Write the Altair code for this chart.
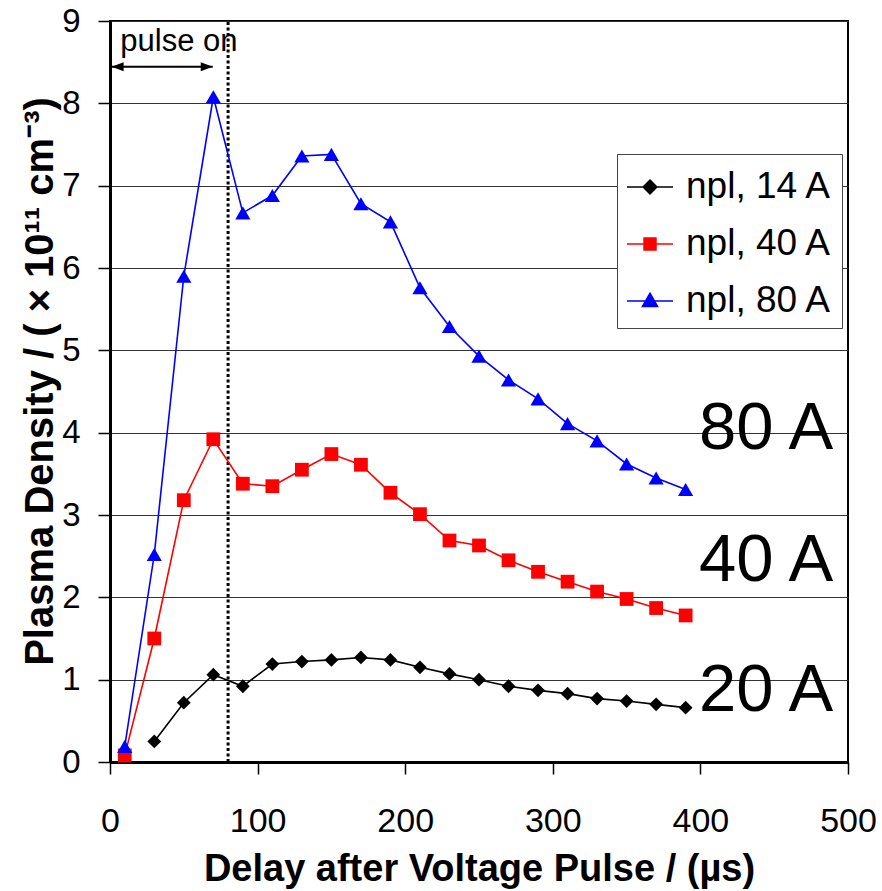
import altair as alt
import pandas as pd

# ---- data ----
delay = [10, 30, 50, 70, 90, 110, 130, 150, 170, 190, 210, 230, 250, 270, 290, 310, 330, 350, 370, 390]
npl_14 = [None, 0.25, 0.72, 1.06, 0.92, 1.19, 1.22, 1.24, 1.27, 1.24, 1.15, 1.07, 1.00, 0.92, 0.87, 0.83, 0.77, 0.74, 0.70, 0.66]
npl_40 = [0.08, 1.50, 3.18, 3.92, 3.38, 3.35, 3.55, 3.74, 3.61, 3.27, 3.01, 2.69, 2.63, 2.45, 2.31, 2.19, 2.07, 1.98, 1.87, 1.78]
npl_80 = [0.19, 2.52, 5.90, 8.08, 6.67, 6.88, 7.36, 7.38, 6.78, 6.56, 5.76, 5.29, 4.93, 4.64, 4.41, 4.11, 3.90, 3.62, 3.45, 3.31]

series_names = ["npl, 14 A", "npl, 40 A", "npl, 80 A"]
series_colors = ["#000000", "#FF0000", "#0000FF"]
series_shapes = ["diamond", "square", "triangle-up"]
series_sizes = [190, 190, 230]
legend_paths = [
    "M-1,0H1M0,-0.3L0.3,0L0,0.3L-0.3,0Z",
    "M-1,0H1M-0.26,-0.26H0.26V0.26H-0.26Z",
    "M-1,0H1M0,-0.34L0.33,0.24H-0.33Z",
]

x_ticks = [0, 100, 200, 300, 400, 500]
y_ticks = [0, 1, 2, 3, 4, 5, 6, 7, 8, 9]

pulse_end = [80]
arrow_from = [1.1]
arrow_to = [69.6]
arrow_level = [8.445]

current_labels = ["80 A", "40 A", "20 A"]
current_label_x = [490, 490, 490]
current_label_y = [3.80, 2.20, 0.62]

# ---- tables ----
rows = []
for name, vals in zip(series_names, [npl_14, npl_40, npl_80]):
    for d, v in zip(delay, vals):
        if v is not None:
            rows.append({"delay": d, "density": v, "series": name})
df = pd.DataFrame(rows)

FONT = "Liberation Sans"

x_enc = alt.X(
    "delay:Q",
    scale=alt.Scale(domain=[0, 500], nice=False, zero=False),
    axis=alt.Axis(
        values=x_ticks, format="d", grid=False,
        title="Delay after Voltage Pulse / (µs)",
        titleFont=FONT, titleFontSize=38, titleFontWeight="bold", titleColor="black",
        titleY=118, titleBaseline="alphabetic",
        labelFont=FONT, labelFontSize=34, labelColor="black", labelPadding=30,
        tickSize=12, tickColor="black", tickWidth=1.5,
        domainColor="black", domainWidth=3, labelFlush=False,
    ),
)
y_enc = alt.Y(
    "density:Q",
    scale=alt.Scale(domain=[0, 9], nice=False, zero=False),
    axis=alt.Axis(
        values=y_ticks, format="d", grid=True, gridColor="#333333", gridWidth=1.2,
        title="Plasma Density / ( × 10¹¹ cm⁻³)",
        titleFont=FONT, titleFontSize=40, titleFontWeight="bold", titleColor="black",
        titleX=-58, titleY=360, titleBaseline="alphabetic", titleAngle=270,
        labelFont=FONT, labelFontSize=33, labelColor="black", labelPadding=18,
        tickSize=12, tickColor="black", tickWidth=1.5,
        domainColor="black", domainWidth=3, labelFlush=False,
    ),
)

layers = []

# pulse end dotted line
pulse_df = pd.DataFrame({"delay": pulse_end, "density": [0], "density_end": [9]})
layers.append(
    alt.Chart(pulse_df).mark_rule(color="black", strokeWidth=3, strokeDash=[3, 2.5]).encode(
        x=x_enc, y=y_enc, y2="density_end:Q"
    )
)

# pulse-on arrow
arrow_df = pd.DataFrame({"delay": arrow_from, "delay_end": arrow_to, "density": arrow_level})
layers.append(
    alt.Chart(arrow_df).mark_rule(color="black", strokeWidth=2).encode(
        x=x_enc, x2="delay_end:Q", y=y_enc
    )
)
head_left = pd.DataFrame({"delay": arrow_from, "density": arrow_level})
head_right = pd.DataFrame({"delay": arrow_to, "density": arrow_level})
layers.append(
    alt.Chart(head_left).mark_point(shape="M0,0L2,-0.75L2,0.75Z", filled=True, color="black",
                                    opacity=1, size=144).encode(x=x_enc, y=y_enc)
)
layers.append(
    alt.Chart(head_right).mark_point(shape="M0,0L-2,-0.75L-2,0.75Z", filled=True, color="black",
                                     opacity=1, size=144).encode(x=x_enc, y=y_enc)
)
pulse_text = pd.DataFrame({"delay": [7], "density": [8.64], "label": ["pulse on"]})
layers.append(
    alt.Chart(pulse_text).mark_text(align="left", baseline="alphabetic", font=FONT, fontSize=31,
                                    color="black").encode(x=x_enc, y=y_enc, text="label:N")
)

# series lines and markers
for name, color, shape, size in zip(series_names, series_colors, series_shapes, series_sizes):
    sub = df[df["series"] == name]
    layers.append(
        alt.Chart(sub).mark_line(color=color, strokeWidth=1.6).encode(x=x_enc, y=y_enc)
    )
    layers.append(
        alt.Chart(sub).mark_point(shape=shape, filled=True, color=color, opacity=1, size=size).encode(
            x=x_enc, y=y_enc
        )
    )

# big current labels
cur_df = pd.DataFrame({"delay": current_label_x, "density": current_label_y, "label": current_labels})
layers.append(
    alt.Chart(cur_df).mark_text(align="right", baseline="alphabetic", font=FONT, fontSize=67,
                                color="black").encode(x=x_enc, y=y_enc, text="label:N")
)

# legend layer (no marks drawn, only the legend)
leg = alt.Legend(
    title=None, orient="none", legendX=507, legendY=133,
    symbolSize=2116, symbolStrokeWidth=1.5,
    labelFont=FONT, labelFontSize=37, labelColor="black", labelOffset=12, labelLimit=400,
    padding=9, rowPadding=15, strokeColor="#444444", fillColor="white",
)
layers.append(
    alt.Chart(df).transform_filter("false").mark_point(filled=True, opacity=1, strokeWidth=1.5, size=2116).encode(
        x=x_enc, y=y_enc,
        fill=alt.Fill("series:N", scale=alt.Scale(domain=series_names, range=series_colors), legend=leg),
        stroke=alt.Stroke("series:N", scale=alt.Scale(domain=series_names, range=series_colors), legend=leg),
        shape=alt.Shape("series:N", scale=alt.Scale(domain=series_names, range=legend_paths), legend=leg),
    )
)

chart = alt.layer(*layers).properties(
    width=738, height=741,
    autosize=alt.AutoSizeParams(type="none"),
    padding={"left": 110, "top": 21, "right": 34, "bottom": 129},
    background="white",
).configure_view(stroke="black", strokeWidth=2)

chart.save("out.html", embed_options={"renderer": "svg", "actions": False})
